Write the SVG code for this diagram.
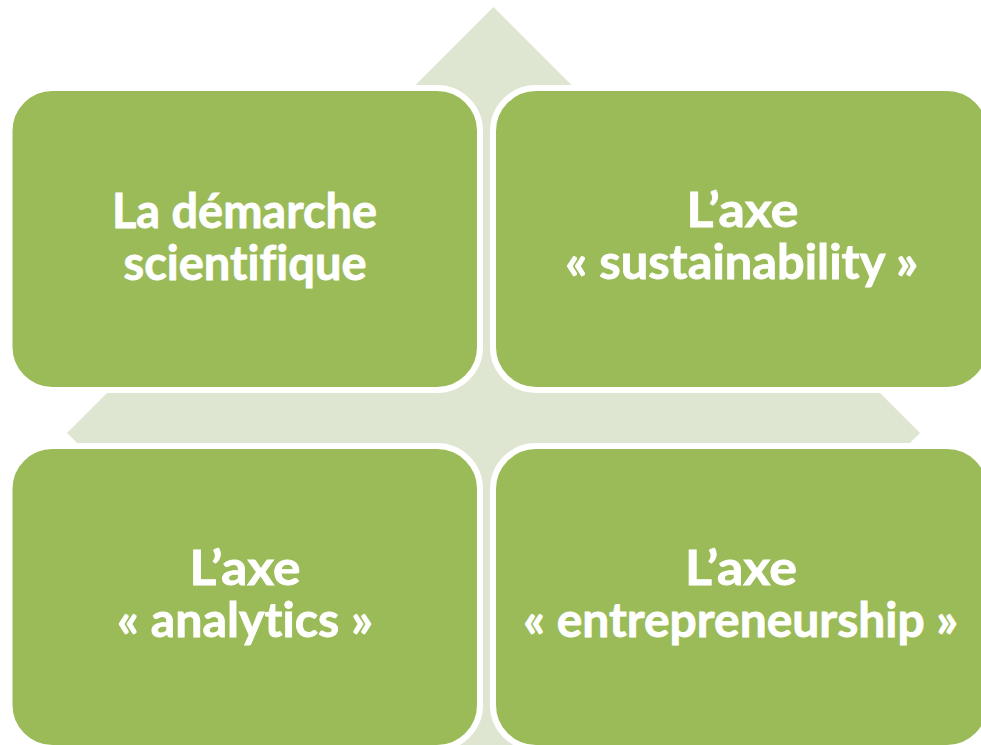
<svg xmlns="http://www.w3.org/2000/svg" width="981" height="745" viewBox="0 0 981 745">
<style>
.bg{fill:#dee6d2;}
.box{fill:#9bbb59;stroke:#ffffff;stroke-width:6;}
.t{font-family:Lato,"Open Sans","Liberation Sans",sans-serif;font-weight:bold;font-size:48px;fill:#ffffff;stroke:#ffffff;stroke-width:0.8;text-anchor:middle;font-variant-ligatures:none;font-feature-settings:"liga" 0,"clig" 0,"dlig" 0;}
</style>
<rect width="981" height="745" fill="#ffffff"/>
<g id="connectors">
<path class="bg" d="M493.5,7 L593.5,107 L543.5,107 L543.5,383 L820,383 L820,333 L920,433 L820,533 L820,483 L543.5,483 L543.5,759 L593.5,759 L493.5,859 L393.5,759 L443.5,759 L443.5,483 L167,483 L167,533 L67,433 L167,333 L167,383 L443.5,383 L443.5,107 L393.5,107 Z"/>
</g>
<g id="node-demarche">
<rect class="box" x="9.5" y="88" width="470.5" height="302" rx="43" ry="43"/>
<text class="t" x="244.5" y="228" textLength="265" lengthAdjust="spacingAndGlyphs">La démarche</text>
<text class="t" x="245" y="280" textLength="243" lengthAdjust="spacingAndGlyphs">scientifique</text>
</g>
<g id="node-sustainability">
<rect class="box" x="493" y="88" width="497" height="302" rx="43" ry="43"/>
<text class="t" x="742.5" y="227" textLength="112" lengthAdjust="spacingAndGlyphs">L’axe</text>
<text class="t" x="741.7" y="279" textLength="353" lengthAdjust="spacingAndGlyphs">« sustainability »</text>
</g>
<g id="node-analytics">
<rect class="box" x="9.5" y="446" width="470.5" height="302" rx="43" ry="43"/>
<text class="t" x="245" y="585" textLength="111" lengthAdjust="spacingAndGlyphs">L’axe</text>
<text class="t" x="245" y="637" textLength="256" lengthAdjust="spacingAndGlyphs">« analytics »</text>
</g>
<g id="node-entrepreneurship">
<rect class="box" x="493" y="446" width="497" height="302" rx="43" ry="43"/>
<text class="t" x="741" y="585" textLength="112" lengthAdjust="spacingAndGlyphs">L’axe</text>
<text class="t" x="740.7" y="637" textLength="435" lengthAdjust="spacingAndGlyphs">« entrepreneurship »</text>
</g>
</svg>
